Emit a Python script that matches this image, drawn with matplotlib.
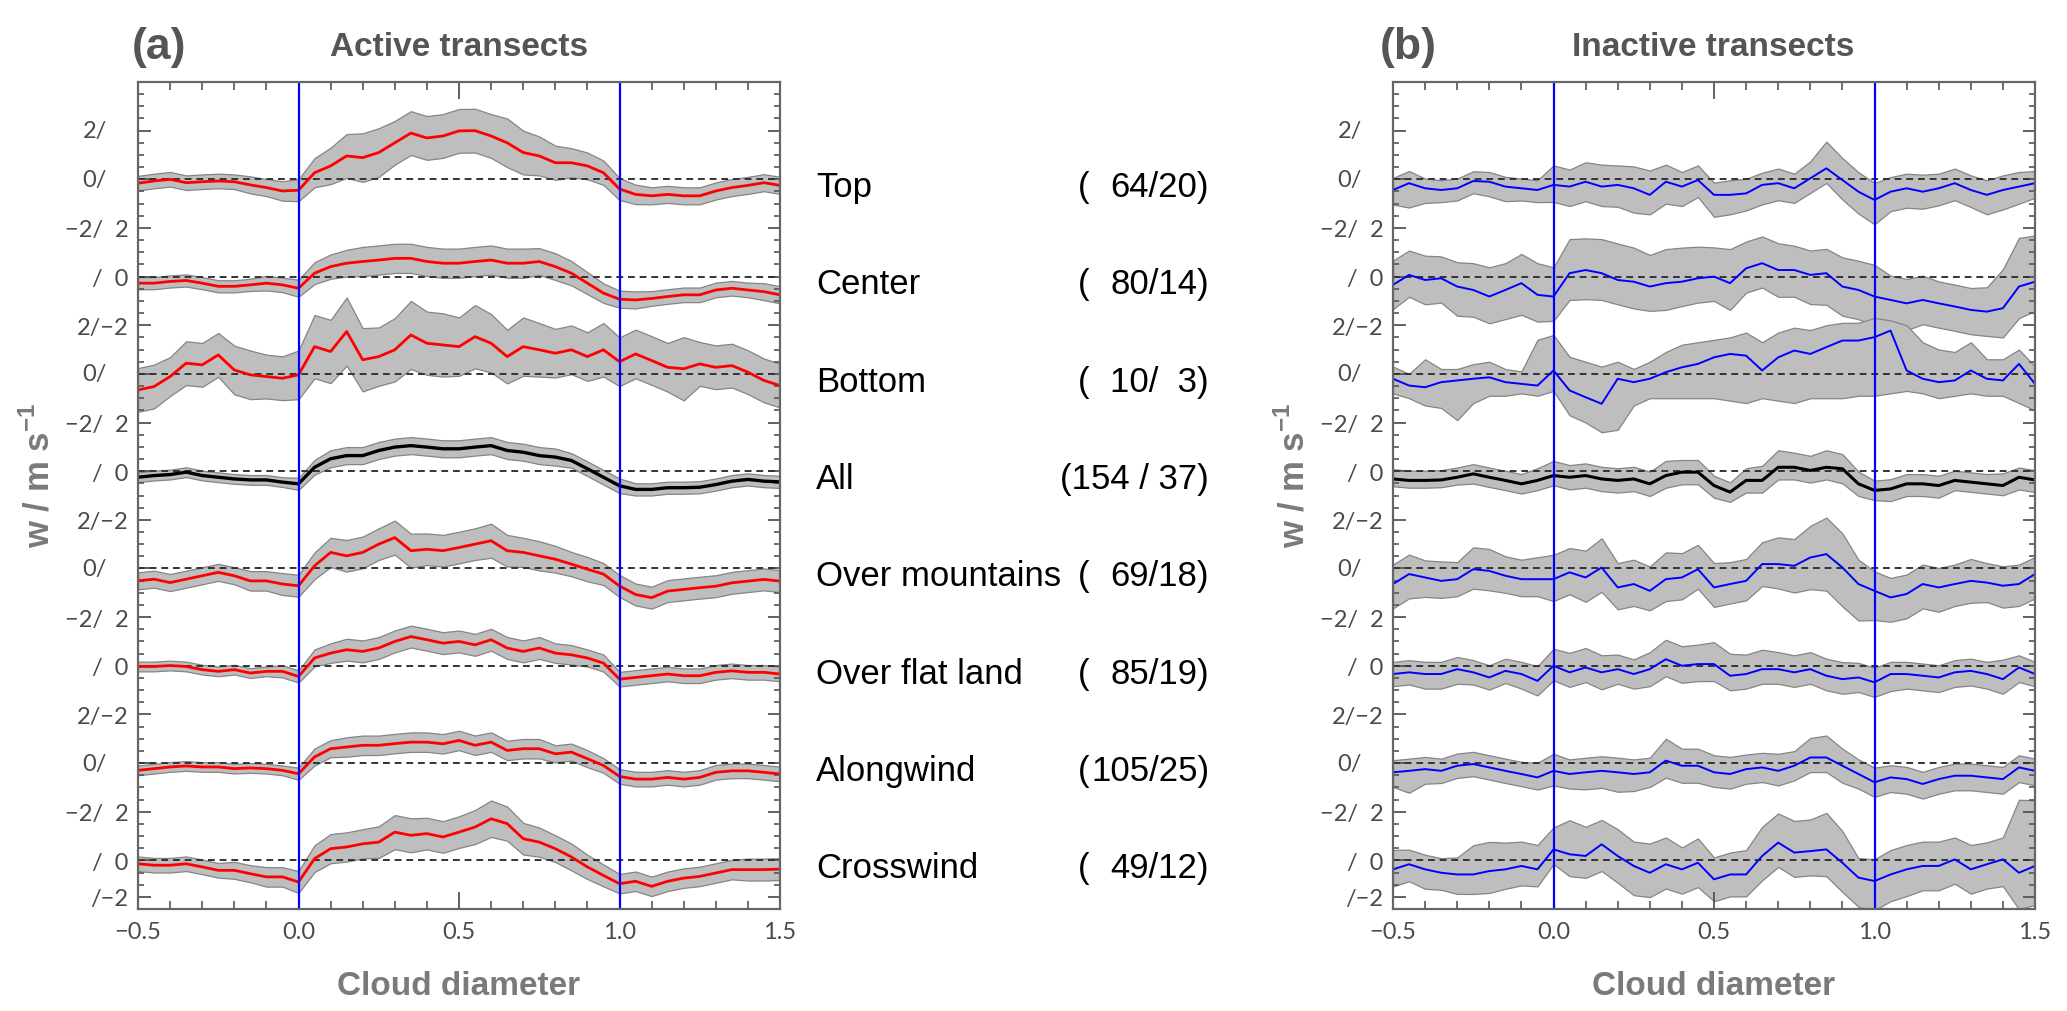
import numpy as np
import matplotlib
matplotlib.use("Agg")
import matplotlib.pyplot as plt
from matplotlib import transforms

# ---------------- data ----------------
x = [-0.5, -0.45, -0.4, -0.35, -0.3, -0.25, -0.2, -0.15, -0.1, -0.05,
     0.0, 0.05, 0.1, 0.15, 0.2, 0.25, 0.3, 0.35, 0.4, 0.45,
     0.5, 0.55, 0.6, 0.65, 0.7, 0.75, 0.8, 0.85, 0.9, 0.95,
     1.0, 1.05, 1.1, 1.15, 1.2, 1.25, 1.3, 1.35, 1.4, 1.45,
     1.5]

categories = ["Top", "Center", "Bottom", "All", "Over mountains",
              "Over flat land", "Alongwind", "Crosswind"]
n_transects = [64, 80, 10, 154, 69, 85, 105, 49]
n_clouds = [20, 14, 3, 37, 18, 19, 25, 12]
offsets = [28, 24, 20, 16, 12, 8, 4, 0]

# ----- panel (a): active transects, mean and half width of band -----
top_a = [-0.16, -0.07, 0.0, -0.14, -0.1, -0.07, -0.1, -0.23, -0.34, -0.48,
         -0.45, 0.27, 0.55, 0.96, 0.89, 1.1, 1.5, 1.9, 1.7, 1.78,
         1.99, 2.0, 1.78, 1.5, 1.1, 0.96, 0.68, 0.68, 0.55, 0.27,
         -0.4, -0.62, -0.68, -0.62, -0.68, -0.68, -0.48, -0.34, -0.25, -0.14,
         -0.25]
top_a_hw = [0.3, 0.3, 0.3, 0.3, 0.3, 0.3, 0.3, 0.35, 0.35, 0.4,
            0.45, 0.6, 0.75, 0.9, 1.0, 1.0, 0.9, 0.9, 0.9, 0.9,
            0.9, 0.9, 0.9, 1.0, 0.9, 0.8, 0.7, 0.6, 0.55, 0.5,
            0.45, 0.4, 0.35, 0.35, 0.35, 0.35, 0.35, 0.35, 0.35, 0.35,
            0.35]
center_a = [-0.27, -0.27, -0.2, -0.16, -0.27, -0.4, -0.4, -0.34, -0.27, -0.34,
            -0.48, 0.14, 0.41, 0.55, 0.62, 0.68, 0.75, 0.75, 0.62, 0.55,
            0.55, 0.62, 0.68, 0.55, 0.55, 0.62, 0.41, 0.14, -0.27, -0.68,
            -0.93, -0.96, -0.9, -0.82, -0.75, -0.75, -0.55, -0.48, -0.55, -0.62,
            -0.75]
center_a_hw = [0.25, 0.25, 0.25, 0.25, 0.25, 0.25, 0.25, 0.25, 0.3, 0.3,
               0.35, 0.45, 0.5, 0.55, 0.6, 0.6, 0.6, 0.6, 0.6, 0.6,
               0.6, 0.6, 0.6, 0.6, 0.6, 0.55, 0.55, 0.5, 0.45, 0.4,
               0.35, 0.35, 0.3, 0.3, 0.3, 0.3, 0.3, 0.3, 0.3, 0.35,
               0.35]
bottom_a = [-0.66, -0.52, -0.11, 0.44, 0.37, 0.78, 0.16, -0.04, -0.11, -0.18,
            -0.04, 1.12, 0.92, 1.74, 0.58, 0.71, 0.99, 1.6, 1.26, 1.19,
            1.12, 1.53, 1.26, 0.71, 1.12, 0.99, 0.85, 0.99, 0.71, 0.99,
            0.5, 0.82, 0.55, 0.27, 0.21, 0.41, 0.27, 0.34, 0.07, -0.27,
            -0.48]
bottom_a_hw = [0.9, 0.9, 0.8, 0.9, 0.9, 0.9, 1.0, 1.0, 0.9, 0.9,
               1.0, 1.3, 1.3, 1.4, 1.3, 1.2, 1.3, 1.4, 1.3, 1.3,
               1.2, 1.3, 1.2, 1.1, 1.2, 1.1, 1.0, 1.0, 1.0, 1.1,
               1.0, 1.0, 1.0, 1.0, 1.3, 0.9, 0.9, 0.9, 0.9, 0.9,
               0.9]
all_a = [-0.25, -0.18, -0.14, -0.04, -0.18, -0.25, -0.32, -0.36, -0.36, -0.45,
         -0.52, 0.16, 0.51, 0.64, 0.64, 0.85, 0.99, 1.05, 0.99, 0.92,
         0.92, 0.99, 1.05, 0.85, 0.78, 0.64, 0.58, 0.44, 0.1, -0.25,
         -0.6, -0.75, -0.75, -0.68, -0.68, -0.66, -0.55, -0.41, -0.34, -0.41,
         -0.44]
all_a_hw = [0.2, 0.2, 0.2, 0.2, 0.2, 0.2, 0.2, 0.2, 0.2, 0.2,
            0.25, 0.3, 0.35, 0.35, 0.35, 0.35, 0.35, 0.35, 0.35, 0.35,
            0.35, 0.35, 0.35, 0.35, 0.35, 0.35, 0.35, 0.3, 0.3, 0.3,
            0.3, 0.25, 0.25, 0.25, 0.25, 0.25, 0.25, 0.25, 0.25, 0.25,
            0.25]
mount_a = [-0.51, -0.44, -0.58, -0.44, -0.3, -0.16, -0.3, -0.51, -0.51, -0.64,
           -0.71, 0.11, 0.66, 0.52, 0.66, 1.0, 1.27, 0.73, 0.79, 0.73,
           0.86, 1.0, 1.14, 0.73, 0.66, 0.52, 0.38, 0.18, -0.03, -0.23,
           -0.72, -1.07, -1.2, -0.93, -0.86, -0.79, -0.73, -0.59, -0.52, -0.45,
           -0.52]
mount_a_hw = [0.35, 0.35, 0.35, 0.35, 0.35, 0.35, 0.35, 0.4, 0.4, 0.45,
              0.45, 0.55, 0.6, 0.65, 0.65, 0.65, 0.7, 0.7, 0.65, 0.65,
              0.65, 0.65, 0.7, 0.65, 0.6, 0.6, 0.55, 0.5, 0.5, 0.45,
              0.45, 0.45, 0.45, 0.45, 0.45, 0.45, 0.45, 0.45, 0.45, 0.45,
              0.45]
flat_a = [-0.03, -0.03, 0.01, -0.03, -0.16, -0.23, -0.16, -0.3, -0.23, -0.23,
          -0.44, 0.32, 0.52, 0.66, 0.59, 0.73, 1.0, 1.2, 1.07, 0.93,
          1.0, 0.86, 1.07, 0.73, 0.59, 0.73, 0.52, 0.45, 0.32, 0.11,
          -0.55, -0.48, -0.41, -0.34, -0.41, -0.41, -0.27, -0.21, -0.27, -0.27,
          -0.34]
flat_a_hw = [0.2, 0.2, 0.2, 0.2, 0.2, 0.2, 0.2, 0.2, 0.2, 0.25,
             0.25, 0.35, 0.4, 0.45, 0.45, 0.45, 0.45, 0.45, 0.45, 0.45,
             0.45, 0.45, 0.45, 0.45, 0.45, 0.45, 0.4, 0.4, 0.35, 0.35,
             0.3, 0.3, 0.3, 0.3, 0.3, 0.3, 0.3, 0.3, 0.3, 0.3,
             0.3]
along_a = [-0.3, -0.23, -0.16, -0.12, -0.16, -0.16, -0.23, -0.2, -0.23, -0.3,
           -0.44, 0.25, 0.59, 0.66, 0.73, 0.73, 0.8, 0.86, 0.86, 0.79,
           0.93, 0.73, 0.86, 0.52, 0.59, 0.59, 0.38, 0.45, 0.18, -0.1,
           -0.55, -0.66, -0.66, -0.59, -0.66, -0.59, -0.38, -0.32, -0.32, -0.38,
           -0.45]
along_a_hw = [0.2, 0.2, 0.2, 0.2, 0.2, 0.2, 0.2, 0.2, 0.2, 0.2,
              0.25, 0.35, 0.35, 0.4, 0.4, 0.4, 0.4, 0.4, 0.4, 0.4,
              0.4, 0.4, 0.4, 0.4, 0.4, 0.4, 0.35, 0.35, 0.35, 0.3,
              0.3, 0.3, 0.3, 0.3, 0.3, 0.3, 0.3, 0.3, 0.3, 0.3,
              0.3]
cross_a = [-0.14, -0.2, -0.2, -0.14, -0.27, -0.41, -0.41, -0.55, -0.68, -0.68,
           -0.89, 0.07, 0.48, 0.55, 0.68, 0.75, 1.16, 1.03, 1.1, 0.96,
           1.16, 1.37, 1.71, 1.51, 0.89, 0.75, 0.48, 0.14, -0.27, -0.62,
           -0.96, -0.86, -1.07, -0.86, -0.73, -0.66, -0.52, -0.38, -0.38, -0.38,
           -0.36]
cross_a_hw = [0.3, 0.3, 0.3, 0.3, 0.3, 0.3, 0.35, 0.35, 0.4, 0.4,
              0.45, 0.55, 0.6, 0.6, 0.6, 0.65, 0.7, 0.7, 0.65, 0.65,
              0.65, 0.7, 0.75, 0.7, 0.65, 0.6, 0.55, 0.55, 0.5, 0.45,
              0.4, 0.4, 0.4, 0.4, 0.4, 0.4, 0.4, 0.4, 0.45, 0.45,
              0.45]

# ----- panel (b): inactive transects, mean and band (up / down widths) -----
top_b = [-0.44, -0.16, -0.37, -0.44, -0.37, -0.07, -0.1, -0.3, -0.37, -0.44,
         -0.23, -0.3, -0.1, -0.3, -0.23, -0.37, -0.64, -0.1, -0.3, -0.03,
         -0.64, -0.64, -0.58, -0.23, -0.16, -0.37, 0.04, 0.45, -0.03, -0.51,
         -0.85, -0.51, -0.37, -0.51, -0.37, -0.16, -0.44, -0.64, -0.44, -0.3,
         -0.16]
top_b_up = [0.5, 0.5, 0.4, 0.4, 0.4, 0.4, 0.4, 0.4, 0.4, 0.4,
            0.8, 0.7, 0.8, 0.9, 0.8, 0.9, 1.0, 0.7, 0.6, 0.6,
            0.5, 0.6, 0.6, 0.5, 0.6, 0.6, 0.7, 1.1, 0.9, 0.8,
            0.7, 0.6, 0.6, 0.7, 0.6, 0.6, 0.6, 0.6, 0.6, 0.6,
            0.5]
top_b_dn = [0.6, 1.0, 0.6, 0.5, 0.5, 0.5, 0.6, 0.6, 0.5, 0.5,
            0.7, 0.8, 0.8, 0.8, 0.9, 1.0, 0.8, 0.9, 0.8, 0.7,
            0.9, 0.8, 0.7, 0.8, 0.7, 0.6, 0.6, 0.6, 0.8, 0.9,
            1.0, 0.8, 0.8, 0.7, 0.7, 0.7, 0.7, 0.8, 0.8, 0.7,
            0.6]
center_b = [-0.34, 0.07, -0.14, -0.07, -0.41, -0.55, -0.82, -0.55, -0.27, -0.75,
            -0.82, 0.14, 0.27, 0.14, -0.14, -0.21, -0.41, -0.27, -0.21, -0.07,
            0.0, -0.27, 0.34, 0.55, 0.27, 0.27, 0.07, 0.14, -0.41, -0.55,
            -0.82, -0.96, -1.1, -0.96, -1.1, -1.23, -1.37, -1.44, -1.3, -0.41,
            -0.21]
center_b_up = [1.0, 1.0, 1.0, 0.9, 1.0, 1.1, 1.2, 1.1, 1.2, 1.3,
               1.2, 1.4, 1.3, 1.4, 1.5, 1.4, 1.3, 1.4, 1.4, 1.3,
               1.2, 1.4, 1.1, 1.1, 1.1, 1.0, 1.0, 1.0, 1.2, 1.2,
               1.3, 1.0, 1.0, 1.0, 0.9, 0.9, 0.9, 1.0, 1.6, 2.0,
               1.9]
center_b_dn = [1.0, 0.9, 1.0, 1.0, 1.2, 1.1, 1.1, 1.2, 1.3, 1.1,
               1.0, 1.1, 1.2, 1.1, 1.0, 1.1, 1.0, 1.1, 1.0, 1.0,
               1.0, 1.1, 1.0, 1.0, 1.1, 1.1, 1.2, 1.3, 1.2, 1.2,
               1.2, 1.1, 1.1, 1.0, 1.0, 1.0, 1.0, 1.0, 1.2, 1.3,
               1.2]
bottom_b = [-0.2, -0.48, -0.55, -0.34, -0.27, -0.2, -0.14, -0.34, -0.41, -0.48,
            0.14, -0.68, -0.96, -1.23, -0.2, -0.34, -0.2, 0.07, 0.27, 0.41,
            0.68, 0.82, 0.75, 0.14, 0.68, 0.96, 0.82, 1.1, 1.37, 1.37,
            1.51, 1.78, 0.14, -0.2, -0.34, -0.27, 0.14, -0.2, -0.27, 0.41,
            -0.41]
bottom_b_lo = [-0.8, -1.0, -1.3, -1.4, -1.9, -1.2, -0.9, -0.9, -0.8, -0.9,
               -0.7, -1.7, -2.0, -2.4, -2.3, -1.3, -1.0, -1.0, -1.0, -1.0,
               -1.0, -1.1, -1.2, -1.0, -1.1, -1.2, -1.0, -1.0, -1.0, -0.9,
               -0.9, -0.8, -0.7, -0.8, -1.0, -0.9, -0.8, -0.9, -0.9, -1.2,
               -1.5]
bottom_b_hi = [0.3, 0.0, 0.6, 0.2, 0.2, 0.4, 0.5, 0.2, 0.1, 1.4,
               1.6, 0.7, 0.5, 0.3, 0.5, 0.2, 0.5, 0.9, 1.2, 1.3,
               1.4, 1.5, 1.7, 1.3, 1.7, 1.9, 1.8, 2.0, 2.1, 2.1,
               2.3, 2.2, 2.0, 1.3, 1.0, 0.9, 1.3, 0.6, 0.6, 1.0,
               0.3]
all_b = [-0.32, -0.38, -0.38, -0.36, -0.25, -0.11, -0.25, -0.38, -0.52, -0.38,
         -0.18, -0.25, -0.18, -0.32, -0.38, -0.32, -0.52, -0.18, -0.04, -0.04,
         -0.59, -0.86, -0.38, -0.38, 0.16, 0.16, 0.03, 0.16, 0.1, -0.52,
         -0.79, -0.73, -0.52, -0.52, -0.59, -0.38, -0.45, -0.52, -0.59, -0.25,
         -0.36]
all_b_up = [0.4, 0.4, 0.4, 0.4, 0.4, 0.4, 0.4, 0.4, 0.4, 0.5,
            0.6, 0.5, 0.5, 0.5, 0.5, 0.5, 0.5, 0.6, 0.5, 0.5,
            0.4, 0.4, 0.5, 0.6, 0.7, 0.6, 0.6, 0.7, 0.6, 0.5,
            0.4, 0.4, 0.4, 0.4, 0.4, 0.4, 0.4, 0.4, 0.5, 0.4,
            0.4]
all_b_dn = [0.3, 0.3, 0.3, 0.3, 0.3, 0.4, 0.4, 0.4, 0.4, 0.4,
            0.4, 0.5, 0.5, 0.5, 0.5, 0.5, 0.5, 0.5, 0.5, 0.5,
            0.5, 0.4, 0.5, 0.5, 0.5, 0.5, 0.5, 0.5, 0.6, 0.5,
            0.4, 0.5, 0.5, 0.5, 0.5, 0.4, 0.4, 0.4, 0.4, 0.5,
            0.5]
mount_b = [-0.64, -0.23, -0.37, -0.51, -0.44, -0.03, -0.1, -0.3, -0.44, -0.44,
           -0.44, -0.16, -0.37, 0.04, -0.78, -0.64, -0.92, -0.44, -0.37, -0.03,
           -0.78, -0.64, -0.51, 0.18, 0.18, 0.11, 0.45, 0.59, 0.04, -0.64,
           -0.92, -1.19, -1.05, -0.64, -0.78, -0.64, -0.51, -0.58, -0.71, -0.64,
           -0.23]
mount_b_up = [0.8, 0.8, 0.7, 0.8, 0.7, 0.9, 0.9, 0.8, 0.8, 0.9,
              1.0, 1.0, 1.1, 1.2, 1.0, 1.0, 1.0, 1.1, 1.0, 1.0,
              1.0, 0.9, 0.9, 0.9, 1.1, 1.1, 1.3, 1.5, 1.4, 1.0,
              0.8, 0.8, 0.8, 0.8, 0.8, 0.8, 0.9, 0.8, 0.8, 0.8,
              0.7]
mount_b_dn = [1.0, 1.0, 0.8, 0.7, 0.7, 0.8, 0.8, 0.7, 0.7, 0.7,
              0.9, 0.9, 1.0, 1.0, 0.9, 0.9, 0.8, 0.9, 0.9, 0.8,
              0.8, 0.8, 0.8, 0.9, 1.0, 1.1, 1.3, 1.5, 1.6, 1.5,
              1.2, 1.0, 1.0, 1.0, 1.0, 0.9, 0.9, 0.8, 0.9, 0.9,
              1.0]
flat_b = [-0.34, -0.27, -0.34, -0.34, -0.14, -0.27, -0.48, -0.21, -0.34, -0.62,
          0.0, -0.27, -0.07, -0.27, -0.14, -0.34, -0.14, 0.27, 0.0, 0.07,
          0.07, -0.41, -0.34, -0.14, -0.14, -0.27, -0.14, -0.41, -0.55, -0.48,
          -0.68, -0.34, -0.34, -0.41, -0.48, -0.27, -0.21, -0.34, -0.55, -0.07,
          -0.34]
flat_b_up = [0.5, 0.5, 0.5, 0.5, 0.5, 0.5, 0.5, 0.5, 0.5, 0.6,
             0.7, 0.8, 0.8, 0.7, 0.6, 0.6, 0.7, 0.8, 0.8, 0.8,
             0.9, 0.9, 0.8, 0.8, 0.7, 0.7, 0.7, 0.7, 0.7, 0.6,
             0.6, 0.5, 0.5, 0.5, 0.5, 0.5, 0.5, 0.5, 0.8, 0.5,
             0.5]
flat_b_dn = [0.5, 0.5, 0.6, 0.6, 0.6, 0.5, 0.5, 0.5, 0.6, 0.6,
             0.6, 0.6, 0.6, 0.7, 0.6, 0.6, 0.7, 0.7, 0.7, 0.7,
             0.7, 0.6, 0.6, 0.6, 0.6, 0.6, 0.6, 0.6, 0.6, 0.6,
             0.6, 0.7, 0.6, 0.6, 0.6, 0.6, 0.6, 0.6, 0.6, 0.6,
             0.5]
along_b = [-0.38, -0.32, -0.25, -0.32, -0.11, -0.04, -0.18, -0.32, -0.45, -0.59,
           -0.32, -0.45, -0.38, -0.32, -0.38, -0.45, -0.38, 0.1, -0.11, -0.11,
           -0.38, -0.45, -0.25, -0.18, -0.32, -0.11, 0.23, 0.23, -0.11, -0.45,
           -0.79, -0.59, -0.66, -0.86, -0.66, -0.52, -0.52, -0.59, -0.66, -0.18,
           -0.32]
along_b_up = [0.5, 0.5, 0.5, 0.5, 0.5, 0.5, 0.5, 0.5, 0.5, 0.6,
              0.7, 0.6, 0.6, 0.6, 0.6, 0.6, 0.6, 0.9, 0.7, 0.7,
              0.7, 0.7, 0.6, 0.6, 0.7, 0.6, 0.8, 0.9, 0.7, 0.6,
              0.6, 0.5, 0.5, 0.5, 0.5, 0.5, 0.5, 0.5, 0.5, 0.5,
              0.5]
along_b_dn = [0.6, 0.9, 0.6, 0.5, 0.5, 0.5, 0.5, 0.5, 0.5, 0.5,
              0.6, 0.6, 0.7, 0.7, 0.8, 0.7, 0.6, 0.7, 0.7, 0.7,
              0.6, 0.6, 0.6, 0.6, 0.6, 0.6, 0.6, 0.6, 0.7, 0.6,
              0.6, 0.6, 0.6, 0.6, 0.6, 0.6, 0.6, 0.6, 0.6, 0.6,
              0.6]
cross_b = [-0.37, -0.16, -0.37, -0.51, -0.58, -0.58, -0.44, -0.37, -0.23, -0.37,
           0.45, 0.25, 0.18, 0.66, 0.18, -0.23, -0.51, -0.16, -0.37, -0.1,
           -0.78, -0.58, -0.58, 0.18, 0.73, 0.32, 0.38, 0.45, -0.1, -0.71,
           -0.85, -0.58, -0.37, -0.23, -0.23, 0.04, -0.37, -0.16, 0.04, -0.51,
           -0.23]
cross_b_up = [0.8, 0.6, 0.6, 0.6, 0.7, 1.2, 1.2, 1.1, 1.0, 1.0,
              0.9, 1.4, 1.2, 1.0, 1.1, 1.0, 1.2, 1.1, 0.9, 1.0,
              0.9, 0.9, 1.0, 1.2, 1.2, 1.3, 1.3, 1.5, 1.3, 0.8,
              0.9, 1.0, 1.0, 1.0, 1.0, 0.9, 1.0, 0.9, 0.9, 3.0,
              2.7]
cross_b_dn = [0.7, 0.7, 0.8, 0.7, 0.8, 0.8, 0.9, 0.8, 0.8, 0.7,
              0.6, 0.9, 0.9, 1.1, 1.1, 1.2, 1.0, 1.0, 1.0, 1.0,
              0.9, 0.9, 0.9, 1.0, 1.0, 1.0, 1.0, 1.1, 1.2, 1.2,
              1.2, 1.1, 1.1, 1.0, 1.0, 1.0, 1.0, 1.0, 1.1, 1.5,
              1.6]

# y tick labels (overlapping labels of the stacked plots)
ytick_pos = [30, 28, 26, 24, 22, 20, 18, 16, 14, 12, 10, 8, 6, 4, 2, 0, -1.5]
ytick_lab = ["", "", "\u22122/  2", "/  0", "2/\u22122", "", "\u22122/  2", "/  0",
             "2/\u22122", "", "\u22122/  2", "/  0", "2/\u22122", "", "\u22122/  2",
             "/  0", "/\u22122"]
ytick_lone = ["2/", "0/", "", "", "", "0/", "", "", "", "0/", "", "", "", "0/",
              "", "", ""]
xtick_pos = [-0.5, 0.0, 0.5, 1.0, 1.5]
xtick_lab = ["\u22120.5", "0.0", "0.5", "1.0", "1.5"]

# ---------------- figure ----------------
plt.rcParams["font.family"] = ["Liberation Sans", "DejaVu Sans"]
plt.rcParams["mathtext.fontset"] = "custom"
plt.rcParams["mathtext.bf"] = "Liberation Sans:bold"
plt.rcParams["mathtext.rm"] = "Liberation Sans"

W, H = 2067, 1012
fig = plt.figure(figsize=(W / 100, H / 100), dpi=100)

ax_l, ax_b, ax_w, ax_h = 138 / W, 1 - 910 / H, 642 / W, 827 / H
axa = fig.add_axes([ax_l, ax_b, ax_w, ax_h])
axb = fig.add_axes([1393 / W, ax_b, ax_w, ax_h])

BAND = "#bebebe"
EDGE = "#858585"
TICK_TXT = "#4a4a4a"
TICK_FONT = ["Lato", "DejaVu Sans"]

xa = np.array(x)


def draw(ax, mean, lo, hi, off, color, lw):
    mean = np.asarray(mean, float)
    ax.fill_between(xa, np.asarray(lo) + off, np.asarray(hi) + off,
                    facecolor=BAND, edgecolor=EDGE, linewidth=0.9, zorder=1)
    ax.axhline(off, color="#333333", lw=1.4, ls=(0, (3.5, 2.5)), zorder=2)
    ax.plot(xa, mean + off, color=color, lw=lw, zorder=3,
            solid_joinstyle="round")


series_a = [(top_a, top_a_hw), (center_a, center_a_hw), (bottom_a, bottom_a_hw),
            (all_a, all_a_hw), (mount_a, mount_a_hw), (flat_a, flat_a_hw),
            (along_a, along_a_hw), (cross_a, cross_a_hw)]
for (m, hw), off, cat in zip(series_a, offsets, categories):
    m = np.asarray(m); hw = np.asarray(hw)
    col = "black" if cat == "All" else "#ff0000"
    draw(axa, m, m - hw, m + hw, off, col, 2.4 if cat == "All" else 2.0)

series_b = [(top_b, top_b_up, top_b_dn), (center_b, center_b_up, center_b_dn),
            None,
            (all_b, all_b_up, all_b_dn), (mount_b, mount_b_up, mount_b_dn),
            (flat_b, flat_b_up, flat_b_dn), (along_b, along_b_up, along_b_dn),
            (cross_b, cross_b_up, cross_b_dn)]
for s, off, cat in zip(series_b, offsets, categories):
    if s is None:
        m = np.asarray(bottom_b); lo = np.asarray(bottom_b_lo); hi = np.asarray(bottom_b_hi)
    else:
        m = np.asarray(s[0]); hi = m + np.asarray(s[1]); lo = m - np.asarray(s[2])
    col = "black" if cat == "All" else "#0000ff"
    draw(axb, m, lo, hi, off, col, 2.2 if cat == "All" else 1.4)

for ax in (axa, axb):
    ax.set_xlim(-0.5, 1.5)
    ax.set_ylim(-2, 32)
    ax.axvline(0.0, color="#0000ff", lw=1.6, zorder=4)
    ax.axvline(1.0, color="#0000ff", lw=1.6, zorder=4)
    for sp in ax.spines.values():
        sp.set_color("#666666")
        sp.set_linewidth(1.6)
        sp.set_zorder(5)
    ax.set_xticks(xtick_pos)
    ax.set_xticklabels(xtick_lab)
    ax.set_xticks(np.round(np.arange(-0.5, 1.51, 0.1), 2), minor=True)
    ax.set_yticks(ytick_pos)
    ax.set_yticklabels(ytick_lab)
    ax.set_yticks(np.arange(-2, 32.01, 0.5), minor=True)
    ax.tick_params(axis="x", which="major", direction="in", length=12, width=1.3,
                   top=True, bottom=True, colors="#555555", pad=9,
                   labelsize=17, labelcolor=TICK_TXT)
    ax.tick_params(axis="x", which="minor", direction="in", length=6, width=1.2,
                   top=True, bottom=True, colors="#555555")
    ax.tick_params(axis="y", which="major", direction="in", length=9, width=1.3,
                   left=True, right=True, colors="#555555", pad=7,
                   labelsize=17, labelcolor=TICK_TXT)
    ax.tick_params(axis="y", which="minor", direction="in", length=4.5, width=1.2,
                   left=True, right=True, colors="#555555")
    for lab in ax.get_xticklabels() + ax.get_yticklabels():
        lab.set_fontfamily(TICK_FONT)
        lab.set_fontweight("normal")
    tr = transforms.blended_transform_factory(ax.transAxes, ax.transData)
    for yp, s in zip(ytick_pos, ytick_lone):
        if s:
            ax.text(-31 / 642, yp, s, transform=tr, ha="right", va="center",
                    fontsize=17, color=TICK_TXT, family=TICK_FONT,
                    fontweight="normal")
    ax.set_xlabel("Cloud diameter", fontsize=24, fontweight="bold",
                  color="#7a7a7a", labelpad=20)
    ax.text(-0.155, 0.525, r"w / m s$^{\mathbf{-1}}$", transform=ax.transAxes,
            rotation=90, ha="center", va="center", fontsize=25,
            fontweight="bold", color="#7a7a7a")

# titles
fig.text(159 / W, 1 - 48 / H, "(a)", fontsize=32, fontweight="bold",
         color="#555555", ha="center", va="center")
fig.text(459 / W, 1 - 48 / H, "Active transects", fontsize=24,
         fontweight="bold", color="#555555", ha="center", va="center")
fig.text(1408 / W, 1 - 48 / H, "(b)", fontsize=32, fontweight="bold",
         color="#555555", ha="center", va="center")
fig.text(1713 / W, 1 - 48 / H, "Inactive transects", fontsize=24,
         fontweight="bold", color="#555555", ha="center", va="center")

# category labels between the panels
trf = transforms.blended_transform_factory(fig.transFigure, axa.transData)
for cat, n, c, off in zip(categories, n_transects, n_clouds, offsets):
    yy = off - 0.3
    fig.text(816 / W, yy, cat, transform=trf, fontsize=25, ha="left",
             va="center", color="black")
    if cat == "All":
        fig.text(1209 / W, yy, f"({n} / {c})", transform=trf, fontsize=25,
                 ha="right", va="center", color="black")
    else:
        cstr = f"{c}" if c >= 10 else f"  {c}"
        fig.text(1078 / W, yy, "(", transform=trf, fontsize=25, ha="left",
                 va="center", color="black")
        fig.text(1209 / W, yy, f"{n}/{cstr})", transform=trf, fontsize=25,
                 ha="right", va="center", color="black")

fig.savefig("out.png", dpi=100)
